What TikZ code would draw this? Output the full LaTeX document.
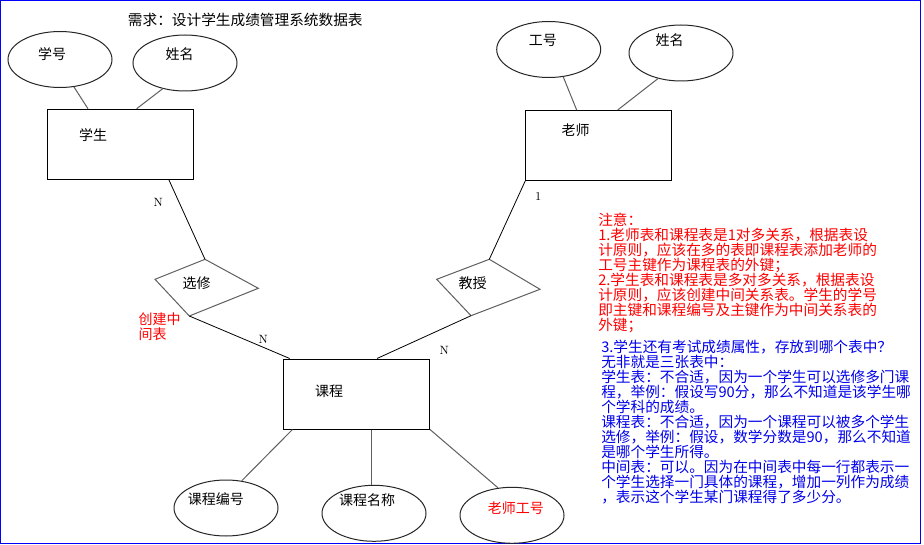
\documentclass[tikz,border=0pt]{standalone}
\usepackage{fontspec}
\newfontfamily\cjk{Noto Sans CJK SC}
\usetikzlibrary{shapes.geometric,calc}
\definecolor{frameblue}{RGB}{0,0,255}
\definecolor{notered}{RGB}{255,0,0}
\definecolor{noteblue}{RGB}{0,0,235}
\definecolor{edgegray}{RGB}{95,95,95}
\begin{document}
\begin{tikzpicture}[x=0.75pt,y=-0.75pt,
  attr/.style={ellipse,draw=black!85,line width=0.75pt,inner sep=0,minimum width=78pt,minimum height=42pt},
  entity/.style={rectangle,draw=black,line width=0.75pt,inner sep=0,minimum width=109.5pt,minimum height=52.5pt},
  lbl/.style={font=\cjk\fontsize{10.5}{10.5}\selectfont,inner sep=0,text height=0.88em,text depth=0.12em},
  note/.style={font=\cjk\fontsize{11}{11}\selectfont,inner sep=0,text height=0.88em,text depth=0.12em,anchor=west},
  card/.style={font=\fontsize{9}{9}\selectfont,inner sep=0},
  attrline/.style={draw=edgegray,line width=0.75pt},
  relline/.style={draw=black,line width=0.6pt},
  relshape/.style={draw=edgegray,line width=0.75pt}
]
\useasboundingbox (0,0) rectangle (924,545);
\fill[white] (0,0) rectangle (924,545);
\draw[frameblue,line width=1pt] (0.6,0.6) rectangle (920.5,543.6);

% title
\node[lbl,font=\cjk\fontsize{11}{11}\selectfont] (title) at (245.3,20) {需求：设计学生成绩管理系统数据表};

% entities
\node[entity] (stu) at (120,144.3) {};
\node[lbl] (stuT) at (93,135) {学生};
\node[entity] (tea) at (598,145.5) {};
\node[lbl] (teaT) at (575.5,130.7) {老师};
\node[entity] (kc) at (356.5,394) {};
\node[lbl] (kcT) at (329.2,391.7) {课程};

% attributes
\node[attr] (xh) at (60,59.5) {};
\node[lbl] (xhT) at (52,54) {学号};
\node[attr] (xms) at (185,63) {};
\node[lbl] (xmsT) at (179.5,54) {姓名};
\node[attr] (gh) at (548.7,49.5) {};
\node[lbl] (ghT) at (542.8,40) {工号};
\node[attr] (xmt) at (681,53) {};
\node[lbl] (xmtT) at (669.5,40.7) {姓名};
\node[attr] (kcbh) at (226,508) {};
\node[lbl] (kcbhT) at (215.8,499) {课程编号};
\node[attr] (kcmc) at (374,513.3) {};
\node[lbl] (kcmcT) at (367.2,500) {课程名称};
\node[attr] (lsgh) at (512,515.3) {};
\node[lbl,text=notered] (lsghT) at (515.8,508.3) {老师工号};

% relationships (skewed diamonds)
\coordinate (xxT) at (205,259.3);
\coordinate (xxL) at (155,279.3);
\coordinate (xxR) at (258.3,288.3);
\coordinate (xxB) at (189.3,316);
\draw[relshape] (xxT) -- (xxR) -- (xxB) -- (xxL) -- cycle;
\node[lbl] (xxText) at (196.7,283.3) {选修};

\coordinate (jsT) at (489.3,259.3);
\coordinate (jsL) at (436.7,279.3);
\coordinate (jsR) at (540,289.3);
\coordinate (jsB) at (471,315.7);
\draw[relshape] (jsT) -- (jsR) -- (jsB) -- (jsL) -- cycle;
\node[lbl] (jsText) at (472.5,283.3) {教授};

% attribute connectors
\draw[attrline] (xh.297) -- (stu.132.4);
\draw[attrline] (xms.229.8) -- (stu.65.4);
\draw[attrline] (gh.298.4) -- (tea.121.5);
\draw[attrline] (xmt.228.9) -- (tea.61.7);
\draw[attrline] (kc.209) -- (kcbh.60.6);
\draw[attrline] (kc.293.5) -- (kc.293.5 |- kcmc.north);
\draw[attrline] (kc.south east) -- (lsgh.117.8);

% relationship connectors
\draw[relline] (stu.324.5) -- (xxT);
\draw[relline] (xxB) -- (kc.152.2);
\draw[relline] (tea.206.6) -- (jsT);
\draw[relline] (jsB) -- (kc.60);

% cardinalities
\node[card] (n1) at (158.3,202.7) {N};
\node[card] (n2) at (263.3,339.3) {N};
\node[card] (n3) at (444.3,350) {N};
\node[card] (one) at (538.3,196.7) {1};

% red side note
\node[lbl,text=notered,anchor=west] (mid1) at (138.3,319.3) {创建中};
\node[lbl,text=notered,anchor=west] (mid2) at (138.3,334) {间表};

% notes
\foreach \t [count=\i from 0] in {
  {注意：},
  {1.老师表和课程表是1对多关系，根据表设},
  {计原则，应该在多的表即课程表添加老师的},
  {工号主键作为课程表的外键；},
  {2.学生表和课程表是多对多关系，根据表设},
  {计原则，应该创建中间关系表。学生的学号},
  {即主键和课程编号及主键作为中间关系表的},
  {外键；}}
  \node[note,text=notered] (r\i) at (598,{220+15.1*\i}) {\t};

\foreach \t [count=\i from 0] in {
  {3.学生还有考试成绩属性，存放到哪个表中？},
  {无非就是三张表中：},
  {学生表：不合适，因为一个学生可以选修多门课},
  {程，举例：假设写90分，那么不知道是该学生哪},
  {个学科的成绩。},
  {课程表：不合适，因为一个课程可以被多个学生},
  {选修，举例：假设，数学分数是90，那么不知道},
  {是哪个学生所得。},
  {中间表：可以。因为在中间表中每一行都表示一},
  {个学生选择一门具体的课程，增加一列作为成绩},
  {，表示这个学生某门课程得了多少分。}}
  \node[note,text=noteblue] (b\i) at (601,{347.7+15*\i}) {\t};
\end{tikzpicture}
\end{document}
